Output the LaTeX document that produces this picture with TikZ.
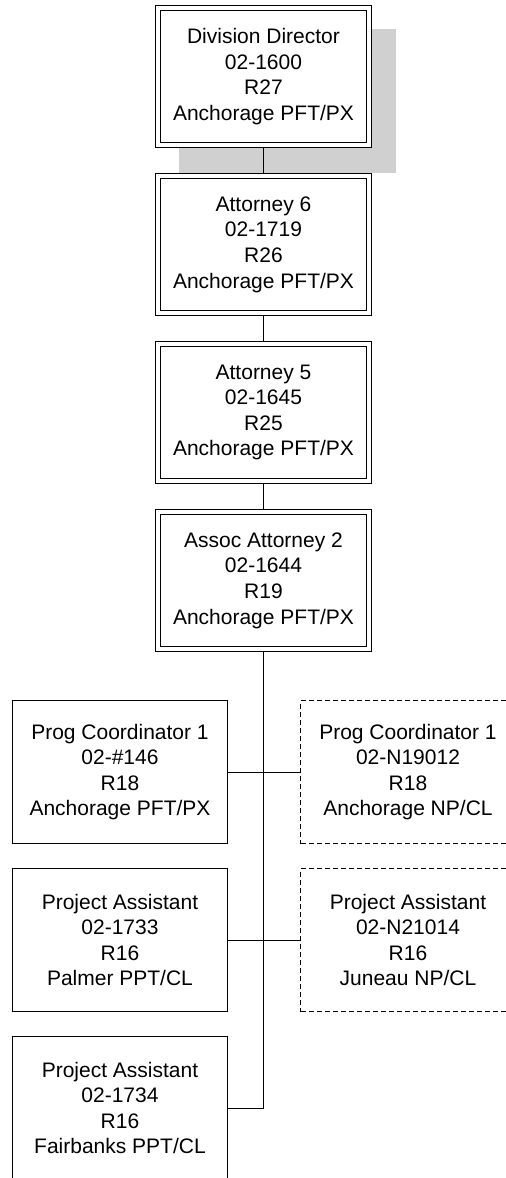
\documentclass[tikz,border=0pt]{standalone}
\usepackage{fontspec}
\setmainfont{Liberation Sans}
\pgfdeclarelayer{shadowlayer}
\pgfdeclarelayer{bg}
\pgfsetlayers{shadowlayer,bg,main}
\definecolor{shadowgray}{RGB}{208,208,208}
\begin{document}
\begin{tikzpicture}[x=1pt,y=-1pt,
  every node/.style={font=\fontsize{21}{25.6}\selectfont, align=center, inner sep=0pt, outer sep=0pt},
  dbox/.style={draw=black, line width=0.9pt, double=white, double distance=4.1pt, fill=white, minimum width=211pt, minimum height=137pt},
  sbox/.style={draw=black, line width=0.9pt, fill=white, minimum width=215pt, minimum height=143pt},
  vbox/.style={sbox, dash pattern=on 5pt off 3pt},
  link/.style={draw=black, line width=0.9pt}]
\useasboundingbox (0,0) rectangle (506,1178);

\node[dbox] (dd) at (263.5,76.5) {Division Director\\02-1600\\R27\\Anchorage PFT/PX};
\node[dbox] (a6) at (263.5,244.5) {Attorney 6\\02-1719\\R26\\Anchorage PFT/PX};
\node[dbox] (a5) at (263.5,412.5) {Attorney 5\\02-1645\\R25\\Anchorage PFT/PX};
\node[dbox] (aa) at (263.5,580.5) {Assoc Attorney 2\\02-1644\\R19\\Anchorage PFT/PX};

\node[sbox] (pc1) at (120,772) {Prog Coordinator 1\\02-\#146\\R18\\Anchorage PFT/PX};
\node[vbox] (pc2) at (408,772) {Prog Coordinator 1\\02-N19012\\R18\\Anchorage NP/CL};
\node[sbox] (pa1) at (120,940) {Project Assistant\\02-1733\\R16\\Palmer PPT/CL};
\node[vbox] (pa2) at (408,940) {Project Assistant\\02-N21014\\R16\\Juneau NP/CL};
\node[sbox] (pa3) at (120,1108) {Project Assistant\\02-1734\\R16\\Fairbanks PPT/CL};

\begin{pgfonlayer}{shadowlayer}
  \fill[shadowgray] (179,28.5) rectangle (396,172.5);
\end{pgfonlayer}

\begin{pgfonlayer}{bg}
  \draw[link] (dd.south) -- (a6.north);
  \draw[link] (a6.south) -- (a5.north);
  \draw[link] (a5.south) -- (aa.north);
  \draw[link] (aa.south) |- (pa3.east);
  \draw[link] (pc1.east) -- (pc2.west);
  \draw[link] (pa1.east) -- (pa2.west);
\end{pgfonlayer}
\end{tikzpicture}
\end{document}
